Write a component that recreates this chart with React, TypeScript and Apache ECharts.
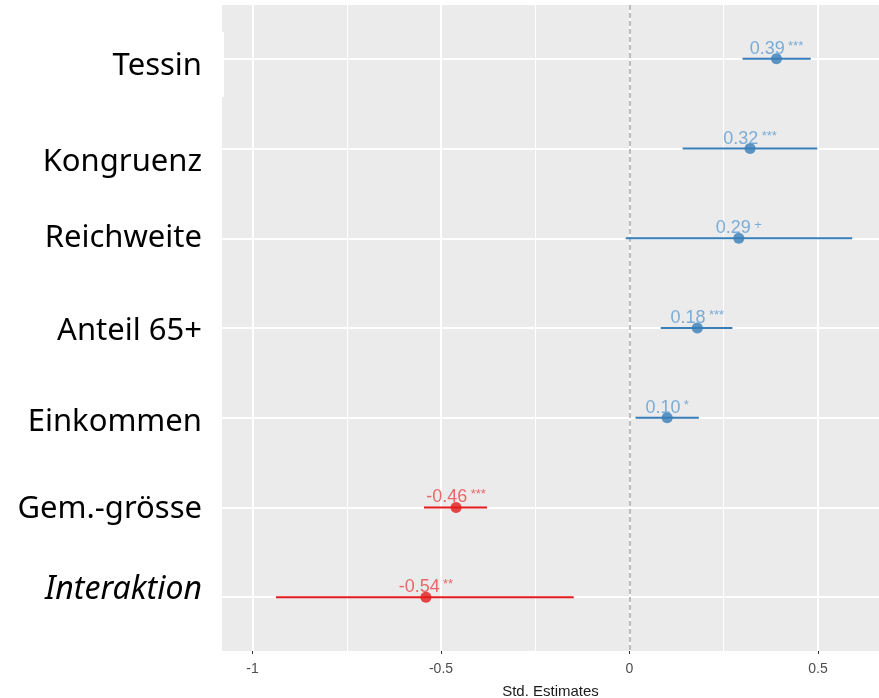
import React, { useEffect, useRef } from "react";
import * as echarts from "echarts";

const terms = ["Tessin", "Kongruenz", "Reichweite", "Anteil 65+", "Einkommen", "Gem.-grösse", "Interaktion"];
const estimates = [0.39, 0.32, 0.29, 0.18, 0.10, -0.46, -0.54];
const ciLow = [0.30, 0.141, -0.010, 0.083, 0.016, -0.545, -0.938];
const ciHigh = [0.481, 0.498, 0.591, 0.273, 0.184, -0.378, -0.148];
const stars = ["***", "***", "+", "***", "*", "***", "**"];
const xTicks = [-1, -0.5, 0, 0.5];
const xMinor = [-0.75, -0.25, 0.25];

const BLUE = "#377EB8";
const RED = "#E41A1C";
const BLUE_TXT = "#5E9BD2";
const RED_TXT = "#EA4648";

// per-label vertical nudges (style only)
const labelShift = [4, 10, -3, 0, 1, -1.5, -11];

export default function App() {
  const ref = useRef<HTMLDivElement>(null);
  useEffect(() => {
    if (!ref.current) return;
    const chart = echarts.init(ref.current, null, { renderer: "svg" });
    const yPos = terms.map((_, i) => i + 1);
    const rich: Record<string, any> = {};
    terms.forEach((_, i) => {
      const s = labelShift[i];
      const italic = i === terms.length - 1;
      rich["t" + i] = {
        fontFamily: "Noto Sans",
        fontSize: italic ? 32 : 31,
        color: "#000",
        fontStyle: italic ? "italic" : "normal",
        padding: s >= 0 ? [2 * s, 0, 0, 0] : [0, 0, -2 * s, 0],
      };
    });
    const option: any = {
      animation: false,
      grid: {
        left: 222,
        right: 0,
        top: 5,
        bottom: 47,
        show: true,
        backgroundColor: "#EBEBEB",
        borderWidth: 0,
        containLabel: false,
        outerBoundsMode: "none",
      },
      xAxis: {
        type: "value",
        min: -1.081,
        max: 0.662,
        axisLine: { show: false },
        splitLine: { show: false },
        axisTick: { show: true, customValues: xTicks, length: 3, lineStyle: { color: "#333", width: 1 } },
        axisLabel: {
          customValues: xTicks,
          formatter: (v: number) => String(v),
          color: "#4D4D4D",
          fontFamily: "Liberation Sans",
          fontSize: 14,
          margin: 10,
        },
        name: "Std. Estimates",
        nameLocation: "middle",
        nameGap: 32,
        nameTextStyle: { color: "#1A1A1A", fontFamily: "Liberation Sans", fontSize: 15 },
      },
      yAxis: {
        type: "value",
        min: 0.4,
        max: 7.6,
        inverse: true,
        axisLine: { show: false },
        axisTick: { show: false },
        splitLine: { show: false },
        axisLabel: {
          customValues: yPos,
          margin: 20,
          formatter: (v: number) => `{t${v - 1}|${terms[v - 1]}}`,
          rich,
        },
      },
      graphic: [
        { type: "rect", left: 200, top: 32, shape: { width: 24, height: 65 }, style: { fill: "#fff" }, z: 100 },
      ],
      series: [
        {
          type: "scatter",
          data: [],
          z: 1,
          silent: true,
          markLine: {
            z: 1,
            silent: true,
            symbol: "none",
            label: { show: false },
            lineStyle: { color: "#FFFFFF", type: "solid", width: 1 },
            data: [
              ...xMinor.map((v) => ({ xAxis: v, lineStyle: { width: 1, color: "#fff", type: "solid" } })),
              ...xTicks.map((v) => ({ xAxis: v, lineStyle: { width: 2, color: "#fff", type: "solid" } })),
              ...yPos.map((v) => ({ yAxis: v, lineStyle: { width: 2, color: "#fff", type: "solid" } })),
            ],
          },
        },
        {
          type: "scatter",
          data: [],
          z: 2,
          silent: true,
          markLine: {
            z: 2,
            silent: true,
            symbol: "none",
            label: { show: false },
            data: [{ xAxis: 0, lineStyle: { width: 1.5, color: "#A6A6A6", type: [5, 3] } }],
          },
        },
        {
          type: "custom",
          z: 10,
          silent: true,
          data: terms.map((_, i) => [ciLow[i], ciHigh[i], i + 1, estimates[i]]),
          renderItem: (params: any, api: any) => {
            const p1 = api.coord([api.value(0), api.value(2)]);
            const p2 = api.coord([api.value(1), api.value(2)]);
            const col = api.value(3) < 0 ? RED : BLUE;
            return {
              type: "rect",
              shape: { x: p1[0], y: p1[1] - 1, width: p2[0] - p1[0], height: 2 },
              style: { fill: col },
            };
          },
        },
        {
          type: "scatter",
          z: 11,
          symbolSize: 11,
          data: terms.map((_, i) => ({
            value: [estimates[i], i + 1],
            itemStyle: { color: estimates[i] < 0 ? RED : BLUE },
            label: {
              show: true,
              position: "inside",
              offset: [0, -11],
              formatter: `{n|${estimates[i].toFixed(2)}} {s|${stars[i]}}`,
              rich: {
                n: { fontFamily: "Liberation Sans", fontSize: 18, color: estimates[i] < 0 ? RED_TXT : BLUE_TXT },
                s: {
                  fontFamily: "Liberation Sans",
                  fontSize: 13,
                  color: estimates[i] < 0 ? RED_TXT : BLUE_TXT,
                  verticalAlign: "top",
                },
              },
            },
          })),
        },
      ],
    };
    chart.setOption(option);
    return () => chart.dispose();
  }, []);
  return <div ref={ref} style={{ position: "fixed", left: 0, top: 0, width: 879, height: 698 }} />;
}
